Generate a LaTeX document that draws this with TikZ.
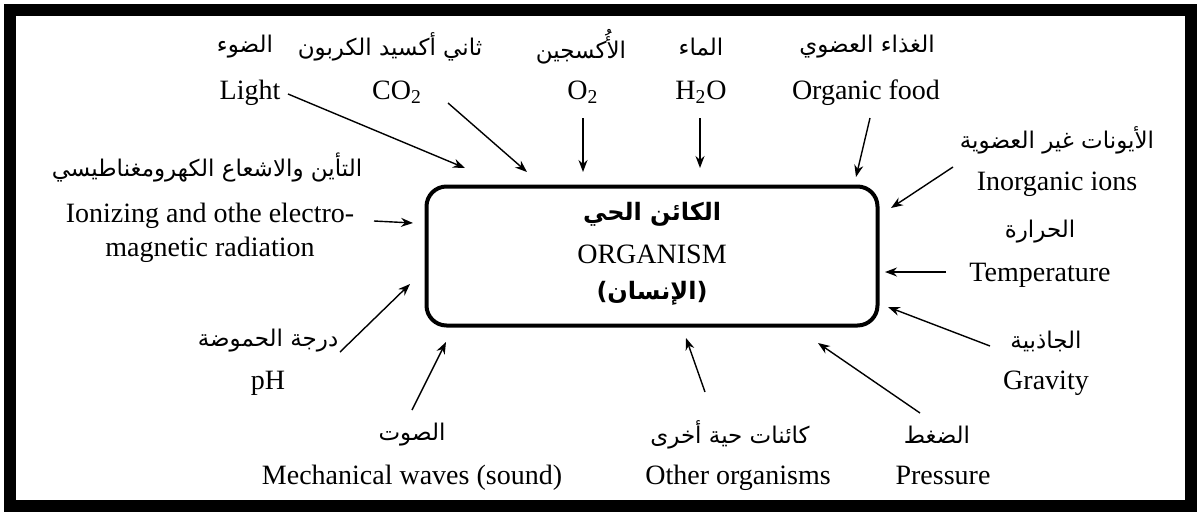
\documentclass[tikz,border=0pt]{standalone}
\usepackage{fontspec}
\setmainfont{Liberation Serif}
\newfontfamily\arabicfont[Script=Arabic]{DejaVu Sans}
\TeXXeTstate=1
\usetikzlibrary{arrows.meta}
\newcommand{\AR}[1]{\beginR #1\endR}
\begin{document}
\begin{tikzpicture}[x=0.5pt,y=-0.5pt,
  en/.style={font=\fontsize{14}{16}\selectfont, inner sep=0pt, anchor=base},
  ar/.style={font=\arabicfont\fontsize{11.5}{14}\selectfont, inner sep=0pt},
  arb/.style={font=\arabicfont\bfseries\fontsize{12}{14}\selectfont, inner sep=0pt},
  arr/.style={-{Stealth[length=6pt,width=4.5pt]}, line width=0.7pt}]
\useasboundingbox (0,0) rectangle (1200,515);
\draw[line width=6pt] (10,10) rectangle (1191,506);
% central box
\node[draw, line width=2pt, rounded corners=10pt, minimum width=225.5pt, minimum height=69.5pt,
      font=\fontsize{14}{16}\selectfont] (org) at (652,256) {\raisebox{2pt}{ORGANISM}};
\node[arb] (orgAr) at (652,214) {\AR{الكائن الحي}};
\node[arb] (orgAr2) at (652,293) {\AR{(الإنسان)}};
% top row
\node[ar] (lightAr) at (245,47) {\AR{الضوء}};
\node[en] (lightEn) at (250,99) {Light};
\node[ar] (co2Ar) at (390,47) {\AR{ثاني أكسيد الكربون}};
\node[en] (co2En) at (397,99) {CO\textsubscript{2}};
\node[ar] (o2Ar) at (581,47) {\AR{الأُكسجين}};
\node[en] (o2En) at (583,99) {O\textsubscript{2}};
\node[ar] (h2oAr) at (701,47) {\AR{الماء}};
\node[en] (h2oEn) at (701,99) {H\textsubscript{2}O};
\node[ar] (foodAr) at (867,47) {\AR{الغذاء العضوي}};
\node[en] (foodEn) at (866,99) {Organic food};
% right side
\node[ar] (ionsAr) at (1057,140) {\AR{الأيونات غير العضوية}};
\node[en] (ionsEn) at (1057,190) {Inorganic ions};
\node[ar] (tempAr) at (1040,232) {\AR{الحرارة}};
\node[en] (tempEn) at (1040,281) {Temperature};
\node[ar] (gravAr) at (1046,341) {\AR{الجاذبية}};
\node[en] (gravEn) at (1046,389) {Gravity};
% bottom row
\node[ar] (presAr) at (937,435) {\AR{الضغط}};
\node[en] (presEn) at (943,484) {Pressure};
\node[ar] (othAr) at (730,435) {\AR{كائنات حية أخرى}};
\node[en] (othEn) at (738,484) {Other organisms};
\node[ar] (sndAr) at (412,435) {\AR{الصوت}};
\node[en] (sndEn) at (412,484) {Mechanical waves (sound)};
% left side
\node[ar] (phAr) at (268,341) {\AR{درجة الحموضة}};
\node[en] (phEn) at (268,389) {pH};
\node[ar] (radAr) at (207,167) {\AR{التأين والاشعاع الكهرومغناطيسي}};
\node[en] (radEn) at (210,222) {Ionizing and othe electro-};
\node[en] (radEn2) at (210,256) {magnetic radiation};
% arrow end points
\coordinate (lightS) at (288,94);   \coordinate (lightT) at (465,168);
\coordinate (co2S) at (448,103);    \coordinate (co2T) at (527,172);
\coordinate (o2S) at (583,118);     \coordinate (o2T) at (583,172);
\coordinate (h2oS) at (700,118);    \coordinate (h2oT) at (700,168);
\coordinate (foodS) at (870,118);   \coordinate (foodT) at (856,177);
\coordinate (ionsS) at (953,167);   \coordinate (ionsT) at (891,208);
\coordinate (tempS) at (946,272);   \coordinate (tempT) at (885,272);
\coordinate (gravS) at (990,346);   \coordinate (gravT) at (888,307);
\coordinate (presS) at (920,413);   \coordinate (presT) at (818,343);
\coordinate (othS) at (705,392);    \coordinate (othT) at (686,338);
\coordinate (sndS) at (412,410);    \coordinate (sndT) at (446,342);
\coordinate (phS) at (340,352);     \coordinate (phT) at (410,284);
\coordinate (radS) at (374,221);    \coordinate (radT) at (413,223);
\draw[arr] (lightS) -- (lightT);
\draw[arr] (co2S) -- (co2T);
\draw[arr] (o2S) -- (o2T);
\draw[arr] (h2oS) -- (h2oT);
\draw[arr] (foodS) -- (foodT);
\draw[arr] (ionsS) -- (ionsT);
\draw[arr] (tempS) -- (tempT);
\draw[arr] (gravS) -- (gravT);
\draw[arr] (presS) -- (presT);
\draw[arr] (othS) -- (othT);
\draw[arr] (sndS) -- (sndT);
\draw[arr] (phS) -- (phT);
\draw[arr] (radS) -- (radT);
\end{tikzpicture}
\end{document}
